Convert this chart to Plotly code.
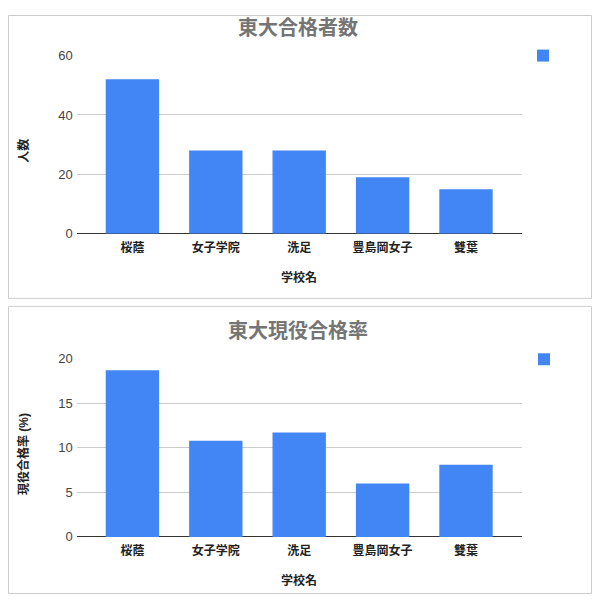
"""
東大合格者数 / 東大現役合格率 — two stacked bar charts in Google Charts style.
"""
import plotly.graph_objects as go

schools = ["桜蔭", "女子学院", "洗足", "豊島岡女子", "雙葉"]
passers = [52, 28, 28, 19, 15]
rate_pct = [18.7, 10.8, 11.7, 6.0, 8.1]

count_ticks = [0, 20, 40, 60]
rate_ticks = [0, 5, 10, 15, 20]

# page body keeps its 8px margin; the photo also squeezes the page a bit
# vertically, so screen positions are mapped back to figure pixels here
OFF_X = 8
OFF_Y, SCALE_Y = 14.4, 0.9755
W, H = 584, 594
BLUE = "#4285F4"
FONT = "Arial, 'Liberation Sans', 'Noto Sans CJK JP', sans-serif"


def px_x(v):
    return (v - OFF_X) / W


def px_y(v):
    f = (v - OFF_Y) / SCALE_Y
    return 1 - max(0.5, min(H - 0.5, f)) / H


fig = go.Figure()

fig.add_trace(go.Bar(
    x=schools, y=passers, name=" ", marker=dict(color=BLUE, line=dict(width=0)),
    width=0.64, xaxis="x", yaxis="y", legend="legend",
))
fig.add_trace(go.Bar(
    x=schools, y=rate_pct, name=" ", marker=dict(color=BLUE, line=dict(width=0)),
    width=0.64, xaxis="x2", yaxis="y2", legend="legend2",
))

x_dom = [px_x(76.7), px_x(521.7)]
cat_range = [-0.668, 4.668]

xaxis_style = dict(
    range=cat_range, showgrid=False, ticks="", showline=False, zeroline=False,
    tickfont=dict(family=FONT, size=12, color="#222222", weight="bold"),
    ticklabelstandoff=5, fixedrange=True,
)
yaxis_style = dict(
    showgrid=True, gridcolor="#cccccc", gridwidth=1, zeroline=True,
    zerolinecolor="#333333", zerolinewidth=1, ticks="", showline=False,
    tickfont=dict(family=FONT, size=13, color="#444444"),
    ticklabelstandoff=3, fixedrange=True,
)

fig.update_layout(
    width=W, height=H,
    margin=dict(l=0, r=0, t=0, b=0),
    paper_bgcolor="white", plot_bgcolor="white",
    font=dict(family=FONT),
    xaxis=dict(domain=x_dom, anchor="y", **xaxis_style),
    yaxis=dict(domain=[px_y(233.3), px_y(55)], anchor="x", range=[0, 60],
               tickvals=count_ticks, **yaxis_style),
    xaxis2=dict(domain=x_dom, anchor="y2", **xaxis_style),
    yaxis2=dict(domain=[px_y(536.7), px_y(358.3)], anchor="x2", range=[0, 20],
                tickvals=rate_ticks, **yaxis_style),
    legend=dict(x=px_x(523), y=px_y(55), xanchor="left", yanchor="middle",
                bgcolor="rgba(0,0,0,0)", font=dict(size=12)),
    legend2=dict(x=px_x(524), y=px_y(359), xanchor="left", yanchor="middle",
                 bgcolor="rgba(0,0,0,0)", font=dict(size=12)),
    showlegend=True,
)

# panel borders
for y0, y1 in [(3, 298), (306, 601)]:
    fig.add_shape(type="rect", xref="paper", yref="paper",
                  x0=px_x(8.5), x1=px_x(591.5), y0=px_y(y1), y1=px_y(y0),
                  line=dict(color="#cccccc", width=1), fillcolor="rgba(0,0,0,0)",
                  layer="below")

title_font = dict(family=FONT, size=20, color="#757575", weight="bold")
label_font = dict(family=FONT, size=12, color="#222222", weight="bold")

annos = [
    ("東大合格者数", 298, 27.5, 0, title_font),
    ("東大現役合格率", 298, 331, 0, title_font),
    ("学校名", 299, 276.7, 0, label_font),
    ("学校名", 299, 580, 0, label_font),
    ("人数", 23.7, 150.5, -90, label_font),
    ("現役合格率 (%)", 23.7, 454, -90, label_font),
]
for text, ax, ay, ang, fnt in annos:
    fig.add_annotation(text=text, x=px_x(ax), y=px_y(ay), xref="paper", yref="paper",
                       showarrow=False, textangle=ang, font=fnt,
                       xanchor="center", yanchor="middle")

fig.write_html("out.html")
